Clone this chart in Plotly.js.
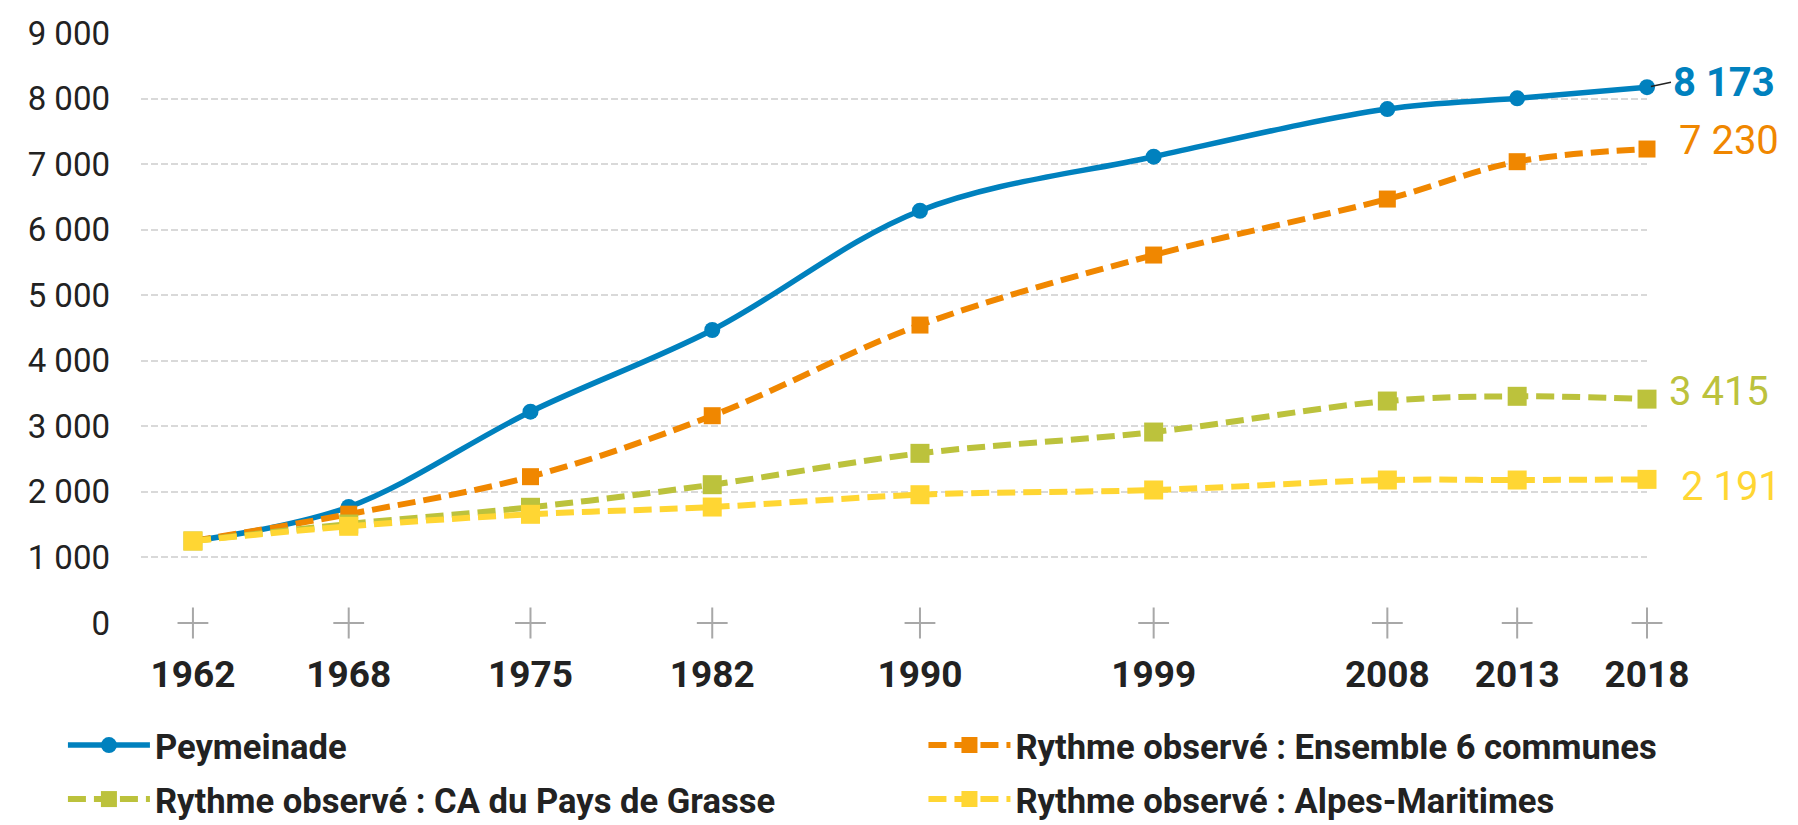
<!DOCTYPE html>
<html>
<head>
<meta charset="utf-8">
<script src="https://cdn.plot.ly/plotly-3.0.1.min.js"></script>
<style>
  html, body { margin: 0; padding: 0; background: #ffffff; }
  #chart { width: 1798px; height: 825px; }
</style>
</head>
<body>
<div id="chart"></div>
<script>
// ---- Data ----
const years = [1962, 1968, 1975, 1982, 1990, 1999, 2008, 2013, 2018];
const yearLabels = ["1962", "1968", "1975", "1982", "1990", "1999", "2008", "2013", "2018"];
const peymeinade = [1251, 1770, 3223, 4469, 6289, 7113, 7840, 8003, 8173];
const ensemble6 = [1251, 1660, 2232, 3162, 4545, 5613, 6467, 7037, 7230];
const caGrasse = [1251, 1510, 1765, 2110, 2588, 2913, 3386, 3458, 3415];
const alpesMaritimes = [1251, 1475, 1658, 1769, 1957, 2029, 2181, 2181, 2191];
const seriesNames = [
  "Peymeinade",
  "Rythme observé : Ensemble 6 communes",
  "Rythme observé : CA du Pays de Grasse",
  "Rythme observé : Alpes-Maritimes"
];

// ---- Styles ----
const colBlue = "#0081BE";
const colOrange = "#F08700";
const colGreen = "#BCC23C";
const colYellow = "#FFD633";
const dashPat = "18px,8px";

function fmt(v) {
  return String(v).replace(/\B(?=(\d{3})+(?!\d))/g, " ");
}
const last = a => a[a.length - 1];
const lastYear = last(years);

const traces = [
  {
    x: years, y: years.map(() => 0), type: "scatter", mode: "markers",
    marker: { symbol: "cross-thin", size: 22, line: { color: "#a8a8a8", width: 2 } },
    showlegend: false, hoverinfo: "skip", cliponaxis: false
  },
  {
    x: years, y: peymeinade, name: seriesNames[0], type: "scatter", mode: "lines+markers",
    legend: "legend", legendgroup: "g1",
    line: { color: colBlue, width: 5.5, shape: "spline" },
    marker: { color: colBlue, size: 16, symbol: "circle" }, cliponaxis: false
  },
  {
    x: years, y: ensemble6, name: seriesNames[1], type: "scatter", mode: "lines+markers",
    legend: "legend2", legendgroup: "g2",
    line: { color: colOrange, width: 6, dash: dashPat, shape: "spline" },
    marker: { color: colOrange, size: 17, symbol: "square" }, cliponaxis: false
  },
  {
    x: years, y: caGrasse, name: seriesNames[2], type: "scatter", mode: "lines+markers",
    legend: "legend", legendgroup: "g3",
    line: { color: colGreen, width: 6, dash: dashPat, shape: "spline" },
    marker: { color: colGreen, size: 19, symbol: "square" }, cliponaxis: false
  },
  {
    x: years, y: alpesMaritimes, name: seriesNames[3], type: "scatter", mode: "lines+markers",
    legend: "legend2", legendgroup: "g4",
    line: { color: colYellow, width: 6, dash: dashPat, shape: "spline" },
    marker: { color: colYellow, size: 19, symbol: "square" }, cliponaxis: false
  }
];

const annotations = [
  {
    x: lastYear, y: last(peymeinade), xref: "x", yref: "y", text: "<b>" + fmt(last(peymeinade)) + "</b>",
    showarrow: true, arrowhead: 0, arrowwidth: 1.5, arrowcolor: "#222222", ax: 24, ay: -5, standoff: 4,
    xanchor: "left", yanchor: "middle",
    font: { family: "Roboto", size: 40, color: colBlue }
  },
  {
    x: lastYear, y: last(ensemble6), xref: "x", yref: "y", text: fmt(last(ensemble6)),
    showarrow: false, xanchor: "left", yanchor: "middle", xshift: 30, yshift: 9,
    font: { family: "Roboto", size: 40, color: colOrange }
  },
  {
    x: lastYear, y: last(caGrasse), xref: "x", yref: "y", text: fmt(last(caGrasse)),
    showarrow: false, xanchor: "left", yanchor: "middle", xshift: 20, yshift: 8,
    font: { family: "Roboto", size: 40, color: colGreen }
  },
  {
    x: lastYear, y: last(alpesMaritimes), xref: "x", yref: "y", text: fmt(last(alpesMaritimes)),
    showarrow: false, xanchor: "left", yanchor: "middle", xshift: 32, yshift: -7,
    font: { family: "Roboto", size: 40, color: colYellow }
  }
];

const legendBase = {
  orientation: "v", xref: "container", yref: "container",
  y: 0.132, xanchor: "left", yanchor: "top",
  itemwidth: 82, tracegroupgap: 6,
  font: { family: "Roboto", size: 34.6, color: "#222222", weight: "bold" },
  bgcolor: "rgba(0,0,0,0)"
};

const layout = {
  width: 1798, height: 825,
  paper_bgcolor: "#ffffff", plot_bgcolor: "#ffffff",
  margin: { l: 141, r: 151, t: 33, b: 202, autoexpand: false },
  separators: ", ",
  showlegend: true,
  font: { family: "Roboto", color: "#222222" },
  xaxis: {
    range: [1960, 2018], showgrid: false, zeroline: false, showline: false,
    tickmode: "array", tickvals: years, ticktext: yearLabels, ticks: "",
    ticklabelstandoff: 26, automargin: false,
    tickfont: { family: "Roboto", size: 37, color: "#222222", weight: "bold" }
  },
  yaxis: {
    range: [0, 9000], dtick: 1000, tick0: 0, tickformat: ",d",
    showgrid: true, gridcolor: "#d9d9d9", gridwidth: 2, griddash: "7px,3px",
    zeroline: false, showline: false, ticks: "", ticklabelstandoff: 30, automargin: false,
    tickfont: { family: "Roboto", size: 33, color: "#222222" }
  },
  legend: Object.assign({}, legendBase, { x: 0.035 }),
  legend2: Object.assign({}, legendBase, { x: 0.5136 }),
  annotations: annotations
};

Plotly.newPlot("chart", traces, layout, { displayModeBar: false, responsive: false });
</script>
</body>
</html>
